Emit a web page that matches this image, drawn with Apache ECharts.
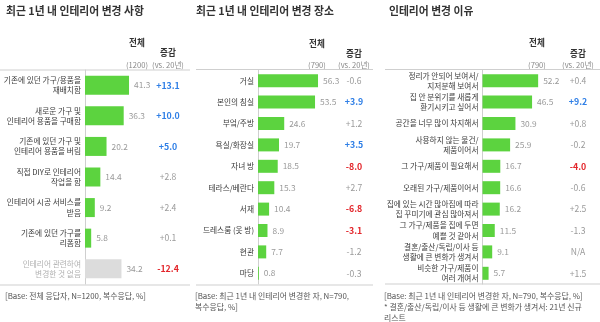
<!DOCTYPE html>
<html><head><meta charset="utf-8">
<script src="https://cdn.jsdelivr.net/npm/echarts@6/dist/echarts.min.js"></script>
<style>html,body{margin:0;padding:0;background:#fff}#c{width:600px;height:322px}</style>
</head><body><div id="c"></div>
<script>
// ---- Panel 1: 최근 1년 내 인테리어 변경 사항 ----
const cats1 = ['기존에 있던 가구/용품을\n재배치함','새로운 가구 및\n인테리어 용품을 구매함','기존에 있던 가구 및\n인테리어 용품을 버림','직접 DIY로 인테리어\n작업을 함','인테리어 시공 서비스를\n받음','기존에 있던 가구를\n리폼함','인테리어 관련하여\n변경한 것 없음'];
const vals1 = [41.3, 36.3, 20.2, 14.4, 9.2, 5.8, 34.2];
const chg1 = ['+13.1','+10.0','+5.0','+2.8','+2.4','+0.1','-12.4'];
const sig1 = ['up','up','up','','','','down'];

// ---- Panel 2: 최근 1년 내 인테리어 변경 장소 ----
const cats2 = ['거실','본인의 침실','부엌/주방','욕실/화장실','자녀 방','테라스/베란다','서재','드레스룸 (옷 방)','현관','마당'];
const vals2 = [56.3, 53.5, 24.6, 19.7, 18.5, 15.3, 10.4, 8.9, 7.7, 0.8];
const chg2 = ['-0.6','+3.9','+1.2','+3.5','-8.0','+2.7','-6.8','-3.1','-1.2','-0.3'];
const sig2 = ['','up','','up','down','','down','down','',''];

// ---- Panel 3: 인테리어 변경 이유 ----
const cats3 = ['정리가 안되어 보여서/\n지저분해 보여서','집 안 분위기를 새롭게\n환기시키고 싶어서','공간을 너무 많이 차지해서','사용하지 않는 물건/\n제품이어서','그 가구/제품이 필요해서','오래된 가구/제품이어서','집에 있는 시간 많아짐에 따라\n집 꾸미기에 관심 많아져서','그 가구/제품을 집에 두면\n예쁠 것 같아서','결혼/출산/독립/이사 등\n생활에 큰 변화가 생겨서','비슷한 가구/제품이\n여러 개여서'];
const vals3 = [52.2, 46.5, 30.9, 25.9, 16.7, 16.6, 16.2, 11.5, 9.1, 5.7];
const chg3 = ['+0.4','+9.2','+0.8','-0.2','-4.0','-0.6','+2.5','-1.3','N/A','+1.5'];
const sig3 = ['','up','','','down','','','','',''];

const titles = ['최근 1년 내 인테리어 변경 사항','최근 1년 내 인테리어 변경 장소','인테리어 변경 이유'];
const totals = ['(1200)','(790)','(790)'];
const notes = [
  ['[Base: 전체 응답자, N=1200, 복수응답, %]'],
  ['[Base: 최근 1년 내 인테리어 변경한 자, N=790,','복수응답, %]'],
  ['[Base: 최근 1년 내 인테리어 변경한 자, N=790, 복수응답, %]','* 결혼/출산/독립/이사 등 생활에 큰 변화가 생겨서: 21년 신규','리스트']
];

const FONT = "'Noto Sans CJK KR', 'Noto Sans', sans-serif";
const GREEN = '#5cd33f', GRAY_BAR = '#dcdcdc';
const BLUE = '#2f7fe6', RED = '#e3262b', MUTED = '#9a9a9a', TXT = '#3a3a3a';

const panels = [
  {cats:cats1, vals:vals1, chg:chg1, sig:sig1, left:85, chgX:168, totX:137, barW:19,
   titleX:6, lineL:0, lineR:190, noteX:5, hdrY:[43,53,65], lineY:70, botY:285},
  {cats:cats2, vals:vals2, chg:chg2, sig:sig2, left:258, chgX:354, totX:317, barW:13,
   titleX:196, lineL:196, lineR:373, noteX:195, hdrY:[44,54,65], lineY:69.5, botY:285},
  {cats:cats3, vals:vals3, chg:chg3, sig:sig3, left:482.5, chgX:578, totX:537, barW:13,
   titleX:389, lineL:385, lineR:600, noteX:384, hdrY:[43,54,65], lineY:69.5, botY:284}
];
const GW = 106.6; // width for 0..100

const grid=[], xAxis=[], yAxis=[], series=[], graphic=[];
panels.forEach((p,i)=>{
  grid.push({left:p.left, top:70, height:214, width:GW, containLabel:false});
  xAxis.push({type:'value', gridIndex:i, min:0, max:100, show:false});
  yAxis.push({type:'category', gridIndex:i, data:p.cats, inverse:true,
    axisLine:{show:true, lineStyle:{color:'#cfcfcf', width:1}}, axisTick:{show:false},
    axisLabel:{margin:4, fontSize:7.7, lineHeight:10.2, fontFamily:FONT,
      color:(v)=> v.indexOf('없음')>=0 ? '#b0b0b0' : TXT}});
  yAxis.push({type:'category', gridIndex:i, data:p.chg, inverse:true, position:'right',
    offset: p.chgX - (p.left+GW),
    axisLine:{show:false}, axisTick:{show:false},
    axisLabel:{margin:0, align:'center', fontFamily:FONT,
      formatter:(v,idx)=> p.sig[idx]==='up' ? '{u|'+v+'}' : p.sig[idx]==='down' ? '{d|'+v+'}' : '{n|'+v+'}',
      rich:{u:{color:BLUE, fontWeight:'bold', fontSize:8.8, fontFamily:FONT},
            d:{color:RED, fontWeight:'bold', fontSize:8.8, fontFamily:FONT},
            n:{color:MUTED, fontSize:8.6, fontFamily:FONT}}}});
  series.push({type:'bar', xAxisIndex:i, yAxisIndex:i*2, barWidth:p.barW,
    data:p.vals.map((v,k)=>({value:v, itemStyle:{color: p.cats[k].indexOf('없음')>=0 ? GRAY_BAR : GREEN}})),
    label:{show:true, position:'right', distance:5, color:MUTED, fontSize:8.4, fontFamily:FONT,
      formatter:(d)=>d.value.toFixed(1)},
    silent:true, animation:false});
  graphic.push({type:'text', left:p.titleX, top:6, style:{text:titles[i], fill:'#333', font:'bold 10.8px '+FONT}});
  graphic.push({type:'text', x:p.totX, y:p.hdrY[0], style:{text:'전체', textAlign:'center', textVerticalAlign:'middle', fill:'#333', font:'bold 8.6px '+FONT}});
  graphic.push({type:'text', x:p.chgX, y:p.hdrY[1], style:{text:'증감', textAlign:'center', textVerticalAlign:'middle', fill:'#333', font:'bold 8.6px '+FONT}});
  graphic.push({type:'text', x:p.totX, y:p.hdrY[2], style:{text:totals[i], textAlign:'center', textVerticalAlign:'middle', fill:'#888', font:'7.6px '+FONT}});
  graphic.push({type:'text', x:p.chgX, y:p.hdrY[2], style:{text:'(vs. 20년)', textAlign:'center', textVerticalAlign:'middle', fill:'#888', font:'7.6px '+FONT}});
  graphic.push({type:'line', shape:{x1:p.lineL, y1:p.lineY, x2:p.lineR, y2:p.lineY}, style:{stroke:'#cfcfcf', lineWidth:1}});
  graphic.push({type:'line', shape:{x1:p.lineL, y1:p.botY, x2:p.lineR, y2:p.botY}, style:{stroke:'#cfcfcf', lineWidth:1}});
  notes[i].forEach((t,k)=>{
    graphic.push({type:'text', x:p.noteX, y:296+k*11, style:{text:t, textVerticalAlign:'middle', fill:'#555', font:'7.9px '+FONT}});
  });
});

const chart = echarts.init(document.getElementById('c'), null, {renderer:'canvas'});
chart.setOption({animation:false, textStyle:{fontFamily:FONT}, grid, xAxis, yAxis, series, graphic});
</script></body></html>
